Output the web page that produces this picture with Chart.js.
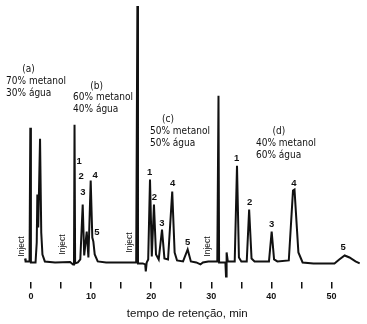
<!DOCTYPE html>
<html>
<head>
<meta charset="utf-8">
<title>Cromatograma</title>
<script src="https://cdn.jsdelivr.net/npm/chart.js@4"></script>
<style>
  html, body { margin: 0; padding: 0; background: #fff; }
  canvas { display: block; }
</style>
</head>
<body>
<canvas id="myChart" width="367" height="324"></canvas>
<script>
// Detector trace: retention time (min) and signal (arbitrary units)
const traceTime = [
  -1.0, -0.9, -0.25, -0.12, -0.02, 0.75, 0.95, 1.05, 1.2, 1.5, 1.7, 1.9, 2.3, 4.0,
  6.5, 7.0, 7.15, 7.24, 7.34, 7.8, 8.2, 8.6, 8.85, 9.27, 9.55, 9.93, 10.2, 10.37, 10.6, 11.1, 12.5,
  16.0, 17.5, 17.7, 17.8, 18.6, 19.0, 19.1, 19.25, 19.5, 19.8, 20.1, 20.46, 20.8, 21.25, 21.8,
  22.2, 22.8, 23.5, 23.9, 24.3, 25.3, 26.07, 26.6, 27.5, 28.2, 28.6,
  29.5, 31.0, 31.2, 31.3, 32.35, 32.45, 32.55, 32.75, 33.9, 34.28, 34.6, 35.0, 35.9, 36.3, 36.7,
  37.2, 39.6, 40.05, 40.45, 41.0, 42.9, 43.6, 43.85, 44.5, 45.2, 47.0, 50.5, 51.3, 52.2, 53.0, 54.0, 54.7
];
const traceSignal = [
  4, 1, 1, 135, 0, 0, 20, 68, 35, 124, 30, 8, 1, 0,
  0.5, -2, -1.5, 138, -1, 0, 3, 58, 7, 31, 5, 82, 25, 21, 8, 1, 0,
  0, 0, 257, -1, -1, -2, -9, 0, 3, 83, 6, 58, 8, 3, 33,
  4, 3, 71, 10, 2, 1, 13, 1, 0, -2, 0,
  1, 1, 167, 0, 0, -14, 10, 1, 1, 97, 5, 1, 1, 53, 4,
  1, 1, 31, 3, 1, 2, 72, 73, 10, 0, -1, -1, 3, 7, 5, 1, -1
];

// x axis ticks (every 5 min, numbered every 10)
const tickValues = [0, 5, 10, 15, 20, 25, 30, 35, 40, 45, 50];

// Mobile phase of each run
const runTags = ['(a)', '(b)', '(c)', '(d)'];
const runMethanol = ['70% metanol', '60% metanol', '50% metanol', '40% metanol'];
const runWater = ['30% água', '40% água', '50% água', '60% água'];
const runTagAt = [[-0.42, 193], [10.9, 176], [22.8, 143], [41.26, 131]];
const runTextAt = [[-4.16, 181], [6.99, 165], [19.8, 131], [37.44, 119]];

// Injection marks
const injectAt = [[-1.5, 16], [5.32, 18], [16.47, 20], [29.45, 16]];

// Peak numbers
const peakNames = ['1', '2', '3', '4', '5', '1', '2', '3', '4', '5', '1', '2', '3', '4', '5'];
const peakAt = [
  [7.99, 101], [8.32, 86], [8.65, 70], [10.65, 87], [10.98, 30],
  [19.72, 90], [20.55, 65], [21.8, 39], [23.55, 79], [26.07, 20],
  [34.23, 104], [36.39, 60], [40.05, 38], [43.76, 79], [51.96, 15]
];

const points = traceTime.map((t, i) => ({ x: t, y: traceSignal[i] }));

const ink = '#111';
const textFont = 'Liberation Sans, Arial, sans-serif';
const narrowFont = '"Liberation Sans Narrow", "Arial Narrow", "DejaVu Sans Condensed", sans-serif';

// Draw the run descriptions, peak numbers and "Inject" marks in data coordinates
const labelPlugin = {
  id: 'chromLabels',
  afterDatasetsDraw(chart) {
    const c = chart.ctx;
    const xs = chart.scales.x;
    const ys = chart.scales.y;
    const px = t => xs.getPixelForValue(t);
    const py = s => ys.getPixelForValue(s);
    c.save();
    c.fillStyle = ink;
    c.textBaseline = 'middle';

    c.font = '10px ' + narrowFont;
    runTags.forEach((tag, i) => {
      c.textAlign = 'center';
      c.fillText(tag, px(runTagAt[i][0]), py(runTagAt[i][1]));
      c.textAlign = 'left';
      const x0 = px(runTextAt[i][0]);
      const y0 = py(runTextAt[i][1]);
      c.fillText(runMethanol[i], x0, y0);
      c.fillText(runWater[i], x0, y0 + 11.5);
    });

    c.font = 'bold 9.5px ' + textFont;
    c.textAlign = 'center';
    peakNames.forEach((name, i) => {
      c.fillText(name, px(peakAt[i][0]), py(peakAt[i][1]));
    });

    c.font = '8.5px ' + textFont;
    injectAt.forEach(p => {
      c.save();
      c.translate(px(p[0]), py(p[1]));
      c.rotate(-Math.PI / 2);
      c.fillText('Inject', 0, 0);
      c.restore();
    });
    c.restore();
  }
};

const ctx = document.getElementById('myChart');

new Chart(ctx, {
  type: 'scatter',
  data: {
    datasets: [{
      data: points,
      showLine: true,
      borderColor: ink,
      borderWidth: 2,
      pointRadius: 0,
      tension: 0,
      clip: false
    }]
  },
  options: {
    responsive: false,
    animation: false,
    layout: { padding: { left: 10, right: 2.5, top: 4, bottom: 3 } },
    plugins: {
      legend: { display: false },
      tooltip: { enabled: false }
    },
    scales: {
      x: {
        type: 'linear',
        min: -3.5,
        max: 55.5,
        afterBuildTicks: axis => { axis.ticks = tickValues.map(v => ({ value: v })); },
        border: { display: false },
        grid: {
          drawOnChartArea: false,
          drawTicks: true,
          tickLength: 6,
          color: ink,
          lineWidth: 1.5
        },
        ticks: {
          autoSkip: false,
          maxRotation: 0,
          padding: 3,
          color: ink,
          font: { family: textFont, size: 9, weight: 'bold' },
          callback: v => (v % 10 === 0 ? String(v) : '')
        },
        title: {
          display: true,
          text: 'tempo de retenção, min',
          color: ink,
          padding: { top: 2, bottom: 0 },
          font: { family: textFont, size: 11.5 }
        }
      },
      y: { display: false, min: -20, max: 259 }
    }
  },
  plugins: [labelPlugin]
});
</script>
</body>
</html>
